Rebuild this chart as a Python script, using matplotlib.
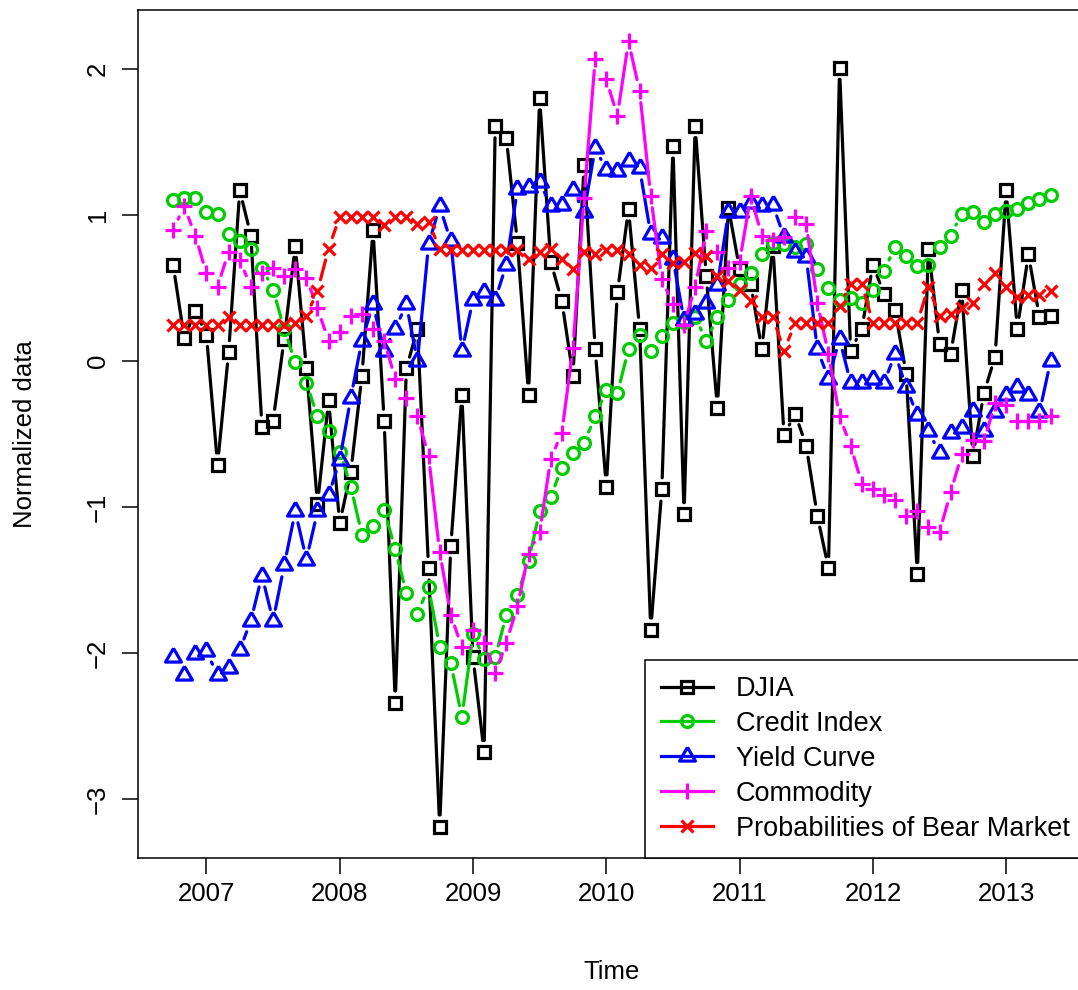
import numpy as np
import matplotlib
matplotlib.use('Agg')
import matplotlib.pyplot as plt
from matplotlib.collections import LineCollection

# monthly series, Oct 2006 .. May 2013
start_year = 2006.75
n_months = 80
time = start_year + np.arange(n_months) / 12.0

djia = [0.66, 0.16, 0.34, 0.18, -0.71, 0.06, 1.17, 0.86, -0.45, -0.41,
        0.15, 0.79, -0.05, -0.98, -0.27, -1.11, -0.76, -0.10, 0.90, -0.41,
        -2.34, -0.05, 0.22, -1.42, -3.19, -1.27, -0.23, -2.03, -2.68, 1.61,
        1.53, 0.81, -0.23, 1.80, 0.68, 0.41, -0.10, 1.34, 0.08, -0.86,
        0.47, 1.04, 0.22, -1.84, -0.88, 1.47, -1.05, 1.61, 0.58, -0.32,
        1.05, 0.63, 0.53, 0.08, 0.79, -0.51, -0.36, -0.58, -1.06, -1.42,
        2.01, 0.07, 0.22, 0.66, 0.46, 0.35, -0.09, -1.46, 0.77, 0.12,
        0.05, 0.49, -0.65, -0.22, 0.03, 1.17, 0.22, 0.73, 0.30, 0.31]

credit = [1.10, 1.12, 1.12, 1.02, 1.01, 0.87, 0.82, 0.77, 0.64, 0.49,
          0.22, -0.01, -0.15, -0.38, -0.48, -0.62, -0.86, -1.19, -1.13, -1.02,
          -1.29, -1.59, -1.73, -1.55, -1.96, -2.07, -2.44, -1.87, -2.04, -2.03,
          -1.74, -1.60, -1.37, -1.03, -0.93, -0.73, -0.63, -0.56, -0.38, -0.20,
          -0.22, 0.08, 0.18, 0.07, 0.17, 0.26, 0.27, 0.30, 0.14, 0.30,
          0.42, 0.53, 0.60, 0.73, 0.81, 0.80, 0.78, 0.80, 0.63, 0.50,
          0.42, 0.43, 0.40, 0.49, 0.62, 0.78, 0.72, 0.65, 0.66, 0.78,
          0.86, 1.01, 1.02, 0.95, 1.01, 1.03, 1.04, 1.08, 1.11, 1.14]

yield_curve = [-2.03, -2.15, -2.01, -1.99, -2.15, -2.10, -1.98, -1.78, -1.47, -1.78,
               -1.40, -1.03, -1.36, -1.03, -0.92, -0.68, -0.25, 0.14, 0.39, 0.07,
               0.22, 0.39, 0.00, 0.80, 1.06, 0.82, 0.07, 0.42, 0.47, 0.42,
               0.66, 1.18, 1.19, 1.23, 1.06, 1.07, 1.17, 1.02, 1.46, 1.31,
               1.30, 1.37, 1.32, 0.87, 0.84, 0.70, 0.28, 0.32, 0.40, 0.52,
               1.02, 1.02, 1.08, 1.06, 1.07, 0.85, 0.75, 0.71, 0.08, -0.12,
               0.15, -0.15, -0.15, -0.12, -0.15, 0.05, -0.18, -0.37, -0.48, -0.63,
               -0.49, -0.46, -0.34, -0.48, -0.35, -0.23, -0.18, -0.23, -0.35, 0.00]

commodity = [0.90, 1.06, 0.86, 0.60, 0.51, 0.75, 0.69, 0.51, 0.60, 0.64,
             0.58, 0.63, 0.57, 0.36, 0.14, 0.20, 0.31, 0.32, 0.22, 0.14,
             -0.12, -0.25, -0.38, -0.65, -1.31, -1.74, -1.96, -1.84, -1.93, -2.14,
             -1.93, -1.68, -1.32, -1.17, -0.67, -0.49, 0.09, 1.12, 2.07, 1.93,
             1.68, 2.19, 1.85, 1.13, 0.56, 0.39, 0.25, 0.51, 0.89, 0.75,
             0.64, 0.68, 1.13, 0.86, 0.83, 0.85, 0.99, 0.94, 0.40, 0.05,
             -0.38, -0.58, -0.84, -0.88, -0.92, -0.95, -1.06, -1.03, -1.14, -1.17,
             -0.90, -0.64, -0.54, -0.55, -0.29, -0.30, -0.41, -0.41, -0.41, -0.38]

bear_prob = [0.25, 0.25, 0.25, 0.25, 0.25, 0.30, 0.25, 0.25, 0.25, 0.25,
             0.25, 0.26, 0.31, 0.48, 0.77, 0.99, 0.99, 0.99, 0.99, 0.93,
             0.99, 0.99, 0.94, 0.95, 0.77, 0.76, 0.76, 0.76, 0.76, 0.76,
             0.76, 0.76, 0.70, 0.75, 0.77, 0.70, 0.63, 0.75, 0.73, 0.76,
             0.76, 0.73, 0.66, 0.64, 0.73, 0.67, 0.68, 0.74, 0.72, 0.58,
             0.55, 0.49, 0.41, 0.30, 0.30, 0.07, 0.26, 0.26, 0.26, 0.26,
             0.38, 0.53, 0.53, 0.26, 0.26, 0.26, 0.26, 0.26, 0.51, 0.31,
             0.32, 0.36, 0.40, 0.53, 0.60, 0.51, 0.44, 0.45, 0.45, 0.48]

labels = ['DJIA', 'Credit Index', 'Yield Curve', 'Commodity',
          'Probabilities of Bear Market']
colors = ['black', '#00CD00', 'blue', 'magenta', 'red']
series = [djia, credit, yield_curve, commodity, bear_prob]

tri = [(0, 1), (-0.866, -0.5), (0.866, -0.5), (0, 1)]
markers = ['s', 'o', tri, '+', 'x']
msizes = [8.2, 8.6, 13.2, 12.0, 8.6]

plt.rcParams['font.family'] = ['Liberation Sans', 'DejaVu Sans']
fs = 18.5
lw = 2.3          # lwd = 2
gap = 11.7        # type = "b" gap in pixels

fig = plt.figure(figsize=(10.78, 9.90), dpi=100)
left, bottom, top = 138 / 1078, 132 / 990, 980 / 990
right = 1085.7 / 1078
ax = fig.add_axes([left, bottom, right - left, top - bottom])

allv = np.concatenate([np.asarray(s) for s in series])
xr = time[-1] - time[0]
yr = allv.max() - allv.min()
ax.set_xlim(time[0] - 0.04 * xr, time[-1] + 0.04 * xr)
ax.set_ylim(allv.min() - 0.04 * yr, allv.max() + 0.04 * yr)


def gapped_line(ax, x, y, color):
    # R type="b": segments stop short of each point
    pts = ax.transData.transform(np.column_stack([x, y]))
    inv = ax.transData.inverted()
    segs = []
    for p0, p1 in zip(pts[:-1], pts[1:]):
        d = np.hypot(*(p1 - p0))
        if d == 0:
            continue
        f = gap / d
        if f < 0.5:
            a = p0 + f * (p1 - p0)
            b = p1 - f * (p1 - p0)
            segs.append(inv.transform(np.array([a, b])))
    lc = LineCollection(segs, colors=color, linewidths=lw, capstyle='round')
    ax.add_collection(lc)


handles = []
for vals, lab, col, mk, ms in zip(series, labels, colors, markers, msizes):
    gapped_line(ax, time, vals, col)
    ax.plot(time, vals, linestyle='none', marker=mk, markersize=ms,
            markerfacecolor='none', markeredgecolor=col, markeredgewidth=lw)
    h, = ax.plot([], [], color=col, lw=lw, marker=mk, markersize=ms,
                 markerfacecolor='none', markeredgecolor=col,
                 markeredgewidth=lw, label=lab)
    handles.append(h)

ax.set_xticks(np.arange(2007, 2014))
ax.set_yticks(np.arange(-3, 3))
ax.tick_params(axis='both', direction='out', length=11.2, width=1.1,
               labelsize=fs)
ax.tick_params(axis='x', pad=6)
ax.tick_params(axis='y', pad=9)
for t in ax.get_yticklabels():
    t.set_rotation(90)
    t.set_va('center')

for sp in ax.spines.values():
    sp.set_linewidth(1.1)

ax.set_xlabel('Time', fontsize=fs)
ax.set_ylabel('Normalized data', fontsize=fs)
ax.xaxis.set_label_coords(0.5, (858 - 972) / 848, transform=ax.transAxes)
ax.xaxis.label.set_va('center')
ax.yaxis.label.set_ha('center')
ax.yaxis.set_label_coords((25 - 138) / 947.7, 0.5, transform=ax.transAxes)
ax.yaxis.label.set_va('center')

leg = ax.legend(handles=handles, loc='lower right', fontsize=19.5,
                borderaxespad=0, borderpad=0.6, labelspacing=0.33,
                handlelength=1.9, handletextpad=0.85, numpoints=1,
                fancybox=False, framealpha=1, edgecolor='black')
leg.get_frame().set_linewidth(1.1)

fig.savefig('out.png', dpi=100)
